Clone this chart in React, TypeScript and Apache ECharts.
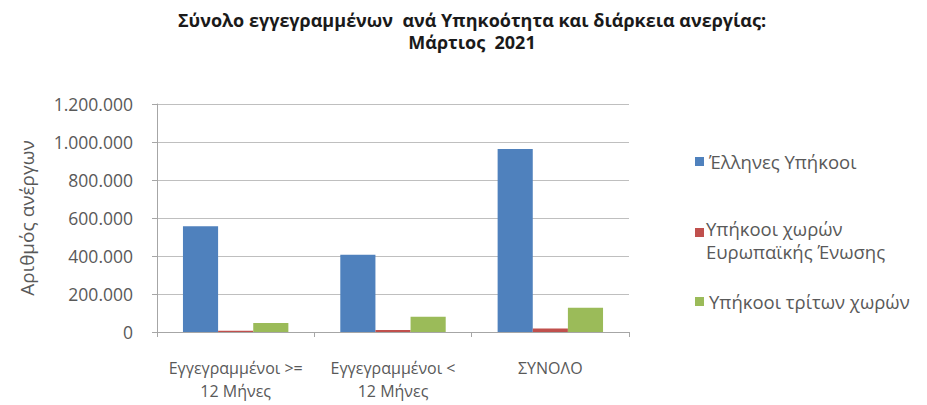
import React, { useEffect, useRef } from "react";
import * as echarts from "echarts";

const categories = ["Εγγεγραμμένοι >=\n12 Μήνες", "Εγγεγραμμένοι <\n12 Μήνες", "ΣΥΝΟΛΟ"];
const seriesNames = ["Έλληνες Υπήκοοι", "Υπήκοοι χωρών\nΕυρωπαϊκής Ένωσης", "Υπήκοοι τρίτων χωρών"];
const greek = [557000, 406000, 963000];
const eu = [7000, 11000, 18000];
const third = [48000, 80000, 128000];
const colors = ["#4F81BD", "#C0504D", "#9BBB59"];
const FONT = "'Open Sans', 'Noto Sans', sans-serif";

const fmt = (v: number) => String(v).replace(/\B(?=(\d{3})+(?!\d))/g, ".");

export default function App() {
  const ref = useRef<HTMLDivElement>(null);
  useEffect(() => {
    const chart = echarts.init(ref.current!, null, { renderer: "svg" });
    const legendText = { color: "#595959", fontSize: 18.5, fontFamily: FONT };
    chart.setOption({
      animation: false,
      textStyle: { fontFamily: FONT },
      title: {
        text: "Σύνολο εγγεγραμμένων  ανά Υπηκοότητα και διάρκεια ανεργίας:\nΜάρτιος  2021",
        left: 467,
        top: 4,
        textAlign: "center",
        textStyle: { fontSize: 18, fontWeight: "bold", color: "#1a1a1a", lineHeight: 22, fontFamily: FONT },
      },
      legend: [
        {
          data: [seriesNames[0]], orient: "vertical", left: 690, top: 147,
          itemWidth: 9, itemHeight: 9, icon: "rect", textStyle: legendText,
        },
        {
          data: [seriesNames[1]], orient: "vertical", left: 690, top: 218,
          itemWidth: 9, itemHeight: 9, icon: "rect", textStyle: legendText,
          formatter: () => " ",
        },
        {
          data: [seriesNames[2]], orient: "vertical", left: 690, top: 287,
          itemWidth: 9, itemHeight: 9, icon: "rect", textStyle: legendText,
        },
      ],
      graphic: [
        {
          type: "text", left: 706, top: 217,
          style: {
            text: seriesNames[1], fill: "#595959", fontSize: 18.5, lineHeight: 23, fontFamily: FONT,
          },
        },
      ],
      grid: { left: 157, right: 298, top: 104, bottom: 73 },
      xAxis: {
        type: "category",
        data: categories,
        axisLine: { lineStyle: { color: "#a6a6a6" } },
        axisTick: { show: true, length: 5, lineStyle: { color: "#a6a6a6" } },
        axisLabel: { color: "#595959", fontSize: 16, lineHeight: 23, margin: 24, interval: 0 },
      },
      yAxis: {
        type: "value",
        min: 0,
        max: 1200000,
        interval: 200000,
        name: "Αριθμός ανέργων",
        nameLocation: "middle",
        nameGap: 121,
        nameTextStyle: { color: "#595959", fontSize: 19 },
        axisLine: { show: true, lineStyle: { color: "#a6a6a6" } },
        axisTick: { show: true, length: 5, lineStyle: { color: "#a6a6a6" } },
        axisLabel: { color: "#595959", fontSize: 17.5, margin: 24, formatter: (v: number) => fmt(v) },
        splitLine: { lineStyle: { color: "#bfbfbf" } },
      },
      series: [greek, eu, third].map((d, i) => ({
        name: seriesNames[i],
        type: "bar",
        data: d,
        barGap: "0%",
        barCategoryGap: "33%",
        itemStyle: { color: colors[i] },
      })),
    });
    return () => chart.dispose();
  }, []);
  return <div ref={ref} style={{ width: 927, height: 405, position: "absolute", left: 0, top: 0 }} />;
}
